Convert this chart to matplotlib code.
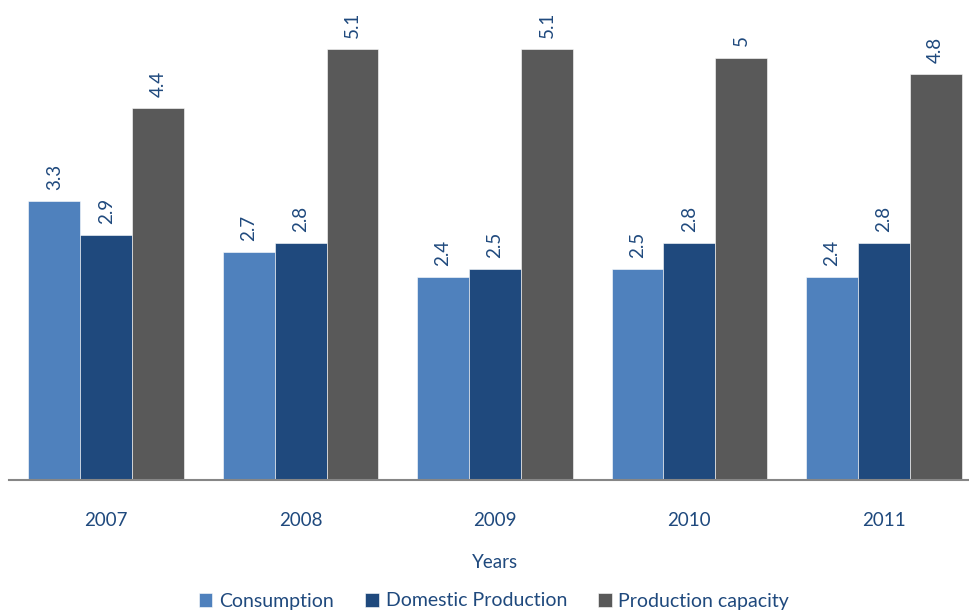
import matplotlib
matplotlib.use("Agg")
import matplotlib.pyplot as plt
import numpy as np

plt.rcParams["font.family"] = ["Lato", "DejaVu Sans"]

years = ["2007", "2008", "2009", "2010", "2011"]
consumption = [3.3, 2.7, 2.4, 2.5, 2.4]
domestic_production = [2.9, 2.8, 2.5, 2.8, 2.8]
production_capacity = [4.4, 5.1, 5.1, 5.0, 4.8]

series = [
    ("Consumption", consumption, "#4F81BD"),
    ("Domestic Production", domestic_production, "#1F497D"),
    ("Production capacity", production_capacity, "#595959"),
]

text_color = "#1F497D"

fig = plt.figure(figsize=(9.69, 6.12), dpi=100)
ax = fig.add_axes([9 / 969, 1 - 480 / 612, 972 / 969, 480 / 612])

x = np.arange(len(years))
width = 0.267
for i, (name, values, color) in enumerate(series):
    pos = x + (i - 1) * width
    bars = ax.bar(pos, values, width=width, color=color, label=name,
                  edgecolor="white", linewidth=0.4)
    for bar, v in zip(bars, values):
        ax.annotate(f"{v:g}", (bar.get_x() + bar.get_width() / 2, v),
                    xytext=(0, 8), textcoords="offset points",
                    rotation=90, ha="center", va="bottom",
                    fontsize=13.5, color=text_color)

ax.set_xlim(-0.5, len(years) - 0.5)
ax.set_ylim(0, 480 / 84.5)
ax.set_yticks([])
ax.set_xticks(x)
ax.set_xticklabels(years, fontsize=13.5, color=text_color)
ax.tick_params(axis="x", length=0, pad=23)
for side in ["top", "right", "left"]:
    ax.spines[side].set_visible(False)
ax.spines["bottom"].set_color("#868686")
ax.spines["bottom"].set_linewidth(1.5)

fig.text(495 / 969, 1 - 563 / 612, "Years", ha="center", va="center",
         fontsize=13.5, color=text_color)

fig.legend(loc="center", bbox_to_anchor=(494 / 969, 1 - 601 / 612), ncol=3,
           frameon=False, fontsize=14, labelcolor=text_color,
           handlelength=0.7, handleheight=0.7, handletextpad=0.35,
           columnspacing=1.6)

fig.savefig("out.png", dpi=100)
